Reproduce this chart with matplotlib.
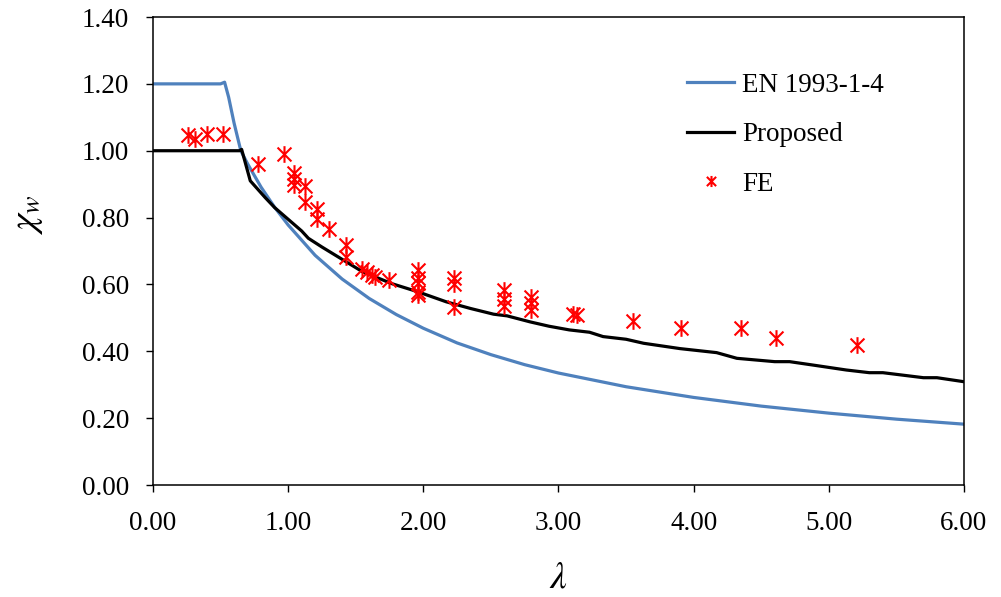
import matplotlib
matplotlib.use("Agg")
import matplotlib.pyplot as plt
from matplotlib.path import Path
from matplotlib.markers import MarkerStyle

plt.rcParams["font.family"] = ["Liberation Serif", "DejaVu Serif"]
plt.rcParams["mathtext.fontset"] = "stix"

# EN 1993-1-4 shear buckling reduction factor
en_lam = [0.00, 0.50, 0.53, 0.56, 0.60, 0.65, 0.70, 0.80, 0.90, 1.00, 1.20,
          1.40, 1.60, 1.80, 2.00, 2.25, 2.50, 2.75, 3.00, 3.50, 4.00, 4.50,
          5.00, 5.50, 6.00]
en_chi = [1.200, 1.200, 1.205, 1.160, 1.083, 1.000, 0.961, 0.891, 0.831,
          0.778, 0.687, 0.616, 0.558, 0.510, 0.469, 0.425, 0.390, 0.360,
          0.335, 0.294, 0.262, 0.236, 0.215, 0.197, 0.182]

# Proposed design curve
pr_lam = [0.00, 0.64, 0.656, 0.72, 0.83, 0.90, 1.00, 1.10, 1.15, 1.25, 1.40,
          1.55, 1.77, 1.96, 2.17, 2.35, 2.52, 2.62, 2.79, 2.93, 3.08, 3.23,
          3.33, 3.50, 3.63, 3.90, 4.17, 4.32, 4.60, 4.71, 4.88, 5.13, 5.30,
          5.40, 5.70, 5.80, 6.00]
pr_chi = [1.000, 1.000, 1.004, 0.910, 0.860, 0.830, 0.795, 0.760, 0.738,
          0.712, 0.675, 0.638, 0.602, 0.578, 0.548, 0.528, 0.511, 0.506,
          0.488, 0.475, 0.464, 0.457, 0.444, 0.436, 0.424, 0.408, 0.396,
          0.379, 0.369, 0.369, 0.359, 0.344, 0.336, 0.336, 0.321, 0.321,
          0.309]

# Finite element results
fe_lam = [0.26, 0.31, 0.40, 0.515, 0.78, 0.97, 1.043, 1.04, 1.04, 1.127,
          1.125, 1.21, 1.21, 1.30, 1.43, 1.43, 1.55, 1.58, 1.62, 1.64, 1.75,
          1.96, 1.96, 1.96, 1.96, 1.96, 2.23, 2.23, 2.23, 2.60, 2.60, 2.60,
          2.80, 2.80, 2.80, 3.11, 3.14, 3.553, 3.91, 4.347, 4.61, 5.21]
fe_chi = [1.047, 1.034, 1.049, 1.049, 0.961, 0.989, 0.932, 0.915, 0.897,
          0.894, 0.848, 0.826, 0.795, 0.767, 0.718, 0.683, 0.645, 0.638,
          0.628, 0.622, 0.613, 0.643, 0.620, 0.603, 0.578, 0.569, 0.618,
          0.600, 0.533, 0.583, 0.555, 0.535, 0.563, 0.543, 0.523, 0.512,
          0.508, 0.490, 0.470, 0.470, 0.439, 0.419]

x_ticks = [0, 1, 2, 3, 4, 5, 6]
y_ticks = [0.0, 0.2, 0.4, 0.6, 0.8, 1.0, 1.2, 1.4]

# asterisk marker: a cross with a vertical stroke
star = Path([(-1, -1), (1, 1), (-1, 1), (1, -1), (0, -1.2), (0, 1.2)],
            [Path.MOVETO, Path.LINETO, Path.MOVETO, Path.LINETO,
             Path.MOVETO, Path.LINETO])

fig = plt.figure(figsize=(10.01, 5.97), dpi=100)
ax = fig.add_axes([0.1528, 0.1876, 0.8102, 0.7839])

ax.plot(en_lam, en_chi, color="#4F81BD", lw=2.3, label="EN 1993-1-4",
        solid_joinstyle="round")
ax.plot(pr_lam, pr_chi, color="black", lw=2.3, label="Proposed")
ax.plot(fe_lam, fe_chi, linestyle="none", marker=MarkerStyle(star),
        markersize=12, markeredgewidth=1.5, color="red", label="FE")

ax.set_xlim(0, 6)
ax.set_ylim(0, 1.4)
ax.set_xticks(x_ticks)
ax.set_yticks(y_ticks)
ax.set_xticklabels([f"{v:.2f}" for v in x_ticks])
ax.set_yticklabels([f"{v:.2f}" for v in y_ticks])
ax.tick_params(direction="out", length=5, width=1, labelsize=19.5)
ax.tick_params(axis="x", pad=14)
ax.tick_params(axis="y", pad=12)
for s in ax.spines.values():
    s.set_linewidth(1.1)

ax.set_xlabel(r"$\lambda$", fontsize=27, labelpad=18)
ax.set_ylabel(r"$\chi_w$", fontsize=27)
ax.yaxis.set_label_coords(-0.133, 0.577)

leg = ax.legend(loc="upper left", bbox_to_anchor=(0.635, 0.921), frameon=False,
                fontsize=19.5, handlelength=1.75, handletextpad=0.3,
                labelspacing=0.9, borderpad=0.2)
leg.legend_handles[2].set_markersize(8)

fig.savefig("out.png", dpi=100)
